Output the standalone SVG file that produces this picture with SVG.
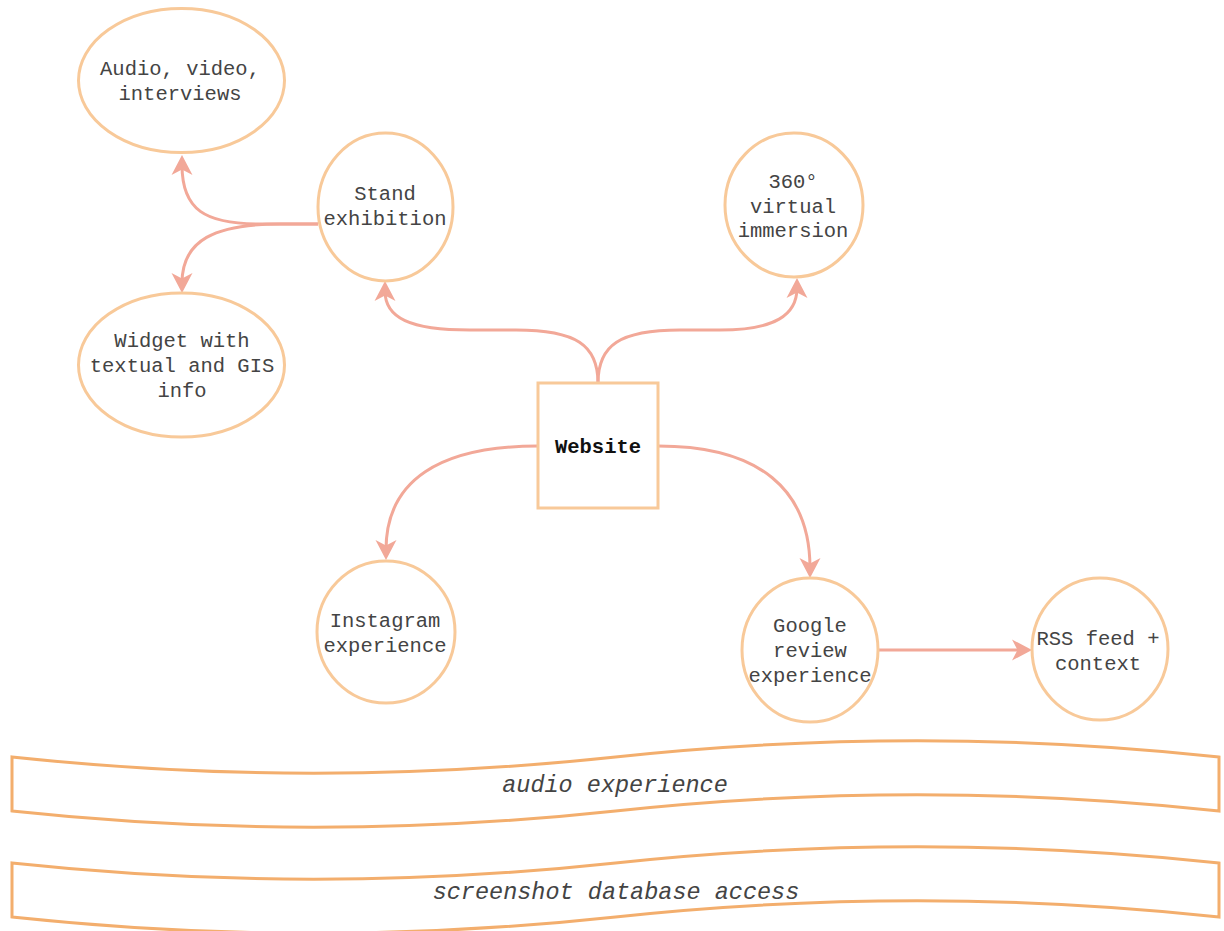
<svg xmlns="http://www.w3.org/2000/svg" width="1224" height="931" viewBox="0 0 1224 931">
<style>
.node{fill:#ffffff;stroke:#F8C999;stroke-width:3}
.band{fill:#ffffff;stroke:#F3AE6D;stroke-width:3}
.lbl{font-family:"Liberation Mono","Courier New",monospace;font-size:20.5px;fill:#444444;text-anchor:middle}
.bold{font-weight:bold;fill:#111}
.blbl{font-family:"Liberation Mono","Courier New",monospace;font-size:23.5px;font-style:italic;fill:#444444;text-anchor:middle}
.edge{fill:none;stroke:#F2A898;stroke-width:3}
</style>
<defs>
<marker id="arr" markerUnits="userSpaceOnUse" markerWidth="30" markerHeight="30" viewBox="-15 -15 30 30" refX="0" refY="0" orient="auto" overflow="visible">
<path d="M10,0 L-10,-10.5 L-4.5,0 L-10,10.5 Z" fill="#F2A898"/>
</marker>
</defs>
<rect width="1224" height="931" fill="#ffffff"/>
<g id="connectors">
<path class="edge" d="M598,383 C598,345 576,330 516,330 L470,330 C410,330 385,318 385,291" marker-end="url(#arr)"/>
<path class="edge" d="M598,383 C598,345 620,330 680,330 L720,330 C775,330 797,315 797,288" marker-end="url(#arr)"/>
<path class="edge" d="M318,224 L260,224 C205,224 182,210 182,165" marker-end="url(#arr)"/>
<path class="edge" d="M318,224 L280,224 C215,224 182,240 182,283" marker-end="url(#arr)"/>
<path class="edge" d="M538,446 C440,446 386,480 386,550" marker-end="url(#arr)"/>
<path class="edge" d="M658,446 C760,446 810,490 810,568" marker-end="url(#arr)"/>
<path class="edge" d="M878,650 L1022,650" marker-end="url(#arr)"/>
</g>
<g id="audio-video">
<ellipse class="node" cx="181.5" cy="80.5" rx="103" ry="72"/>
<text class="lbl" x="180" y="75">Audio, video,</text>
<text class="lbl" x="180" y="100">interviews</text>
</g>
<g id="stand-exhibition">
<ellipse class="node" cx="385.5" cy="207" rx="67.5" ry="74"/>
<text class="lbl" x="385" y="200">Stand</text>
<text class="lbl" x="385" y="225">exhibition</text>
</g>
<g id="widget">
<ellipse class="node" cx="181.5" cy="365" rx="103" ry="72"/>
<text class="lbl" x="182" y="347">Widget with</text>
<text class="lbl" x="182" y="372">textual and GIS</text>
<text class="lbl" x="182" y="397">info</text>
</g>
<g id="virtual-immersion">
<ellipse class="node" cx="794" cy="205" rx="69" ry="72"/>
<text class="lbl" x="793" y="188">360°</text>
<text class="lbl" x="793" y="213">virtual</text>
<text class="lbl" x="793" y="237">immersion</text>
</g>
<g id="website">
<rect class="node" x="538" y="383" width="120" height="125"/>
<text class="lbl bold" x="598" y="453">Website</text>
</g>
<g id="instagram">
<ellipse class="node" cx="386" cy="632" rx="69" ry="71"/>
<text class="lbl" x="385" y="627">Instagram</text>
<text class="lbl" x="385" y="652">experience</text>
</g>
<g id="google-review">
<ellipse class="node" cx="810" cy="650" rx="68" ry="72"/>
<text class="lbl" x="810" y="632">Google</text>
<text class="lbl" x="810" y="657">review</text>
<text class="lbl" x="810" y="682">experience</text>
</g>
<g id="rss-feed">
<ellipse class="node" cx="1100" cy="649" rx="68" ry="71"/>
<text class="lbl" x="1098" y="645">RSS feed +</text>
<text class="lbl" x="1098" y="670">context</text>
</g>
<g id="audio-experience">
<path class="band" d="M12,757 Q313.75,789.4 615.5,757 Q917.25,724.6 1219,757 L1219,811 Q917.25,778.6 615.5,811 Q313.75,843.4 12,811 Z"/>
<text class="blbl" x="615" y="792">audio experience</text>
</g>
<g id="screenshot-database">
<path class="band" d="M12,863 Q313.75,895.4 615.5,863 Q917.25,830.6 1219,863 L1219,917 Q917.25,884.6 615.5,917 Q313.75,949.4 12,917 Z"/>
<text class="blbl" x="616" y="899">screenshot database access</text>
</g>
</svg>
